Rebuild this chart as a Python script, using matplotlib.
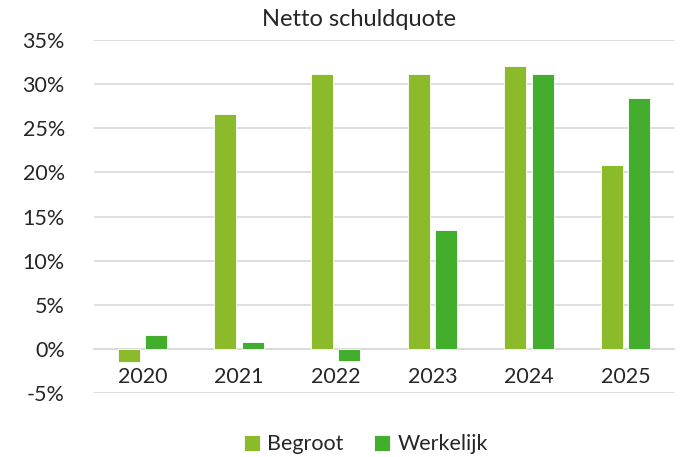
import matplotlib
matplotlib.use("Agg")
import matplotlib.pyplot as plt
import numpy as np

years = ["2020", "2021", "2022", "2023", "2024", "2025"]
begroot = [-1.5, 26.6, 31.1, 31.1, 32.0, 20.8]
werkelijk = [1.6, 0.8, -1.4, 13.5, 31.1, 28.4]
yticks = [-5, 0, 5, 10, 15, 20, 25, 30, 35]

plt.rcParams['font.family'] = ['Lato', 'DejaVu Sans']
fig = plt.figure(figsize=(6.84, 4.57), dpi=100)
ax = fig.add_axes([0.1374, 0.14, 0.848, 0.7725])

x = np.arange(len(years))
w = 0.227
off = 0.142
ax.bar(x - off, begroot, w, color='#8BBA2A', edgecolor='white', linewidth=0.6, label='Begroot', zorder=3)
ax.bar(x + off, werkelijk, w, color='#43AE2E', edgecolor='white', linewidth=0.6, label='Werkelijk', zorder=3)

ax.set_xlim(-0.5, len(years) - 0.5)
ax.set_ylim(-5, 35)
ax.set_yticks(yticks)
ax.set_yticklabels([f"{v}%" for v in yticks], fontsize=15.5, color='#262626')
ax.yaxis.grid(True, color='#d9d9d9', linewidth=1.2, zorder=0)
ax.tick_params(axis='y', length=0, pad=21)
for s in ['top', 'right', 'left']:
    ax.spines[s].set_visible(False)
ax.spines['bottom'].set_position(('data', 0))
ax.spines['bottom'].set_color('#d9d9d9')
ax.spines['bottom'].set_linewidth(1.2)
ax.set_xticks(x)
ax.set_xticklabels(years, fontsize=15.5, color='#262626')
ax.tick_params(axis='x', length=0, pad=13)

fig.text(0.525, 0.958, "Netto schuldquote", ha='center', va='center', fontsize=17, color='#262626')
fig.legend(loc='center', bbox_to_anchor=(0.535, 0.028), ncol=2, frameon=False,
           fontsize=15.5, handlelength=0.75, handleheight=0.75, handletextpad=0.35,
           columnspacing=1.4, labelcolor='#262626')

fig.savefig("out.png", dpi=100)
